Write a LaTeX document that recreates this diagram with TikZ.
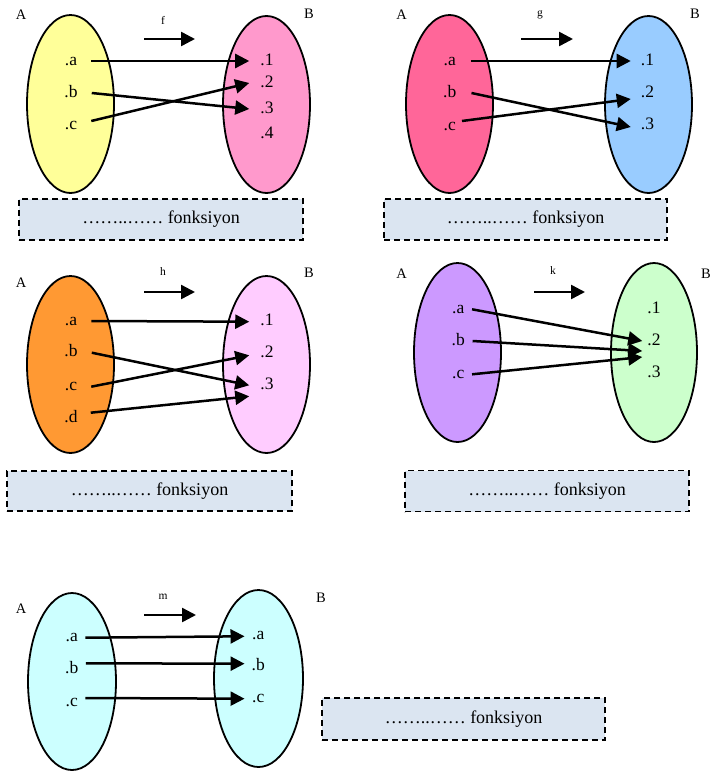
\documentclass[tikz,border=0pt]{standalone}
\usepackage{fontspec}
\setmainfont{Liberation Serif}
\usetikzlibrary{shapes.geometric,arrows.meta}

\definecolor{cYellow}{HTML}{FFFF99}
\definecolor{cPink}{HTML}{FF99CC}
\definecolor{cRose}{HTML}{FF6699}
\definecolor{cBlue}{HTML}{99CCFF}
\definecolor{cOrange}{HTML}{FF9933}
\definecolor{cLilac}{HTML}{FFCCFF}
\definecolor{cPurple}{HTML}{CC99FF}
\definecolor{cGreen}{HTML}{CCFFCC}
\definecolor{cCyan}{HTML}{CCFFFF}
\definecolor{cBox}{HTML}{DBE5F1}

\begin{document}
\begin{tikzpicture}[x=1pt,y=-1pt,
  setshape/.style={ellipse, draw, line width=1.8pt, minimum width=87pt,
    minimum height=177pt, inner sep=0pt},
  elem/.style={anchor=base, inner sep=0pt, text height=8pt, text depth=0pt,
    font=\fontsize{17.5}{17.5}\selectfont},
  setname/.style={inner sep=0pt, font=\fontsize{14.5}{14.5}\selectfont},
  fname/.style={inner sep=0pt, font=\fontsize{11.5}{11.5}\selectfont},
  arr/.style={line width=2.5pt, -{Triangle[length=14pt,width=14pt]}},
  answerbox/.style={draw, dash pattern=on 6pt off 4pt, line width=1.8pt,
    fill=cBox, minimum width=284pt, minimum height=41pt, inner sep=0pt,
    font=\fontsize{18}{18}\selectfont}
]
\clip (0,0) rectangle (712,771);

% ---------- f ----------
\node[setshape, fill=cYellow, minimum height=178pt] (fA) at (70.5,104) {};
\node[setshape, fill=cPink] (fB) at (266.5,104.5) {};
\node[setname] (fAl) at (21,15) {A};
\node[setname] (fBl) at (309,14) {B};
\node[fname] (fl) at (163,20) {f};
\coordinate (fs) at (144,39); \coordinate (fe) at (195,39);
\draw[arr] (fs) -- (fe);
\node[elem] (fa) at (71,65) {.a};
\node[elem] (fb) at (71,97) {.b};
\node[elem] (fc) at (71,129) {.c};
\node[elem] (f1) at (267,65) {.1};
\node[elem] (f2) at (267,87) {.2};
\node[elem] (f3) at (267,113) {.3};
\node[elem] (f4) at (267,138) {.4};
\draw[arr] ([xshift=14pt]fa.east) -- ([xshift=-11pt]f1.west);
\draw[arr] ([xshift=14pt]fb.east) -- ([xshift=-11pt]f3.west);
\draw[arr] ([xshift=14pt,yshift=4pt]fc.east) -- ([xshift=-11pt]f2.west);
\node[answerbox] (fbox) at (161,219.5) {……..…… fonksiyon};

% ---------- g ----------
\node[setshape, fill=cRose, minimum height=178pt] (gA) at (449.5,104) {};
\node[setshape, fill=cBlue] (gB) at (648.5,104.5) {};
\node[setname] (gAl) at (401.5,15) {A};
\node[setname] (gBl) at (695,14) {B};
\node[fname] (gl) at (540,15) {g};
\coordinate (gs) at (521,39); \coordinate (ge) at (573,39);
\draw[arr] (gs) -- (ge);
\node[elem] (ga) at (449.7,65) {.a};
\node[elem] (gb) at (449.7,97) {.b};
\node[elem] (gc) at (449.7,130) {.c};
\node[elem] (g1) at (647.5,65) {.1};
\node[elem] (g2) at (647.5,97) {.2};
\node[elem] (g3) at (647.5,129) {.3};
\draw[arr] ([xshift=15pt]ga.east) -- ([xshift=-10pt]g1.west);
\draw[arr] ([xshift=15pt]gb.east) -- ([xshift=-10pt,yshift=-2pt]g3.west);
\draw[arr] ([xshift=6pt,yshift=5pt]gc.east) -- ([xshift=-10pt,yshift=-6pt]g2.west);
\node[answerbox, minimum width=283pt] (gbox) at (525.5,219.5) {……..…… fonksiyon};

% ---------- h ----------
\node[setshape, fill=cOrange] (hA) at (70.5,364.5) {};
\node[setshape, fill=cLilac] (hB) at (266.5,364.5) {};
\node[setname] (hAl) at (21,283) {A};
\node[setname] (hBl) at (309,273) {B};
\node[fname] (hl) at (163,272) {h};
\coordinate (hs) at (144,292); \coordinate (he) at (195,292);
\draw[arr] (hs) -- (he);
\node[elem] (ha) at (71,325) {.a};
\node[elem] (hb) at (71,356.7) {.b};
\node[elem] (hc) at (71,390.7) {.c};
\node[elem] (hd) at (71,422.7) {.d};
\node[elem] (h1) at (267,325.7) {.1};
\node[elem] (h2) at (267,357.3) {.2};
\node[elem] (h3) at (267,389.3) {.3};
\draw[arr] ([xshift=14pt]ha.east) -- ([xshift=-11pt]h1.west);
\draw[arr] ([xshift=14pt]hb.east) -- ([xshift=-11pt]h3.west);
\draw[arr] ([xshift=14pt]hc.east) -- ([xshift=-11pt,yshift=-2pt]h2.west);
\draw[arr] ([xshift=13pt,yshift=6pt]hd.east) -- ([xshift=-11pt,yshift=-11pt]h3.west);
\node[answerbox, minimum width=285pt, minimum height=40pt] (hbox) at (149.5,491) {……..…… fonksiyon};

% ---------- k ----------
\node[setshape, fill=cPurple, minimum height=179pt] (kA) at (457.5,352.5) {};
\node[setshape, fill=cGreen, minimum width=86pt, minimum height=179pt] (kB) at (654,352.5) {};
\node[setname] (kAl) at (401.5,274) {A};
\node[setname] (kBl) at (706,274) {B};
\node[fname] (kl) at (553,271) {k};
\coordinate (ks) at (534,292); \coordinate (ke) at (585,292);
\draw[arr] (ks) -- (ke);
\node[elem] (ka) at (458.3,313.3) {.a};
\node[elem] (kb) at (458.3,345) {.b};
\node[elem] (kc) at (458.3,378.3) {.c};
\node[elem] (k1) at (654,313.3) {.1};
\node[elem] (k2) at (654,345) {.2};
\node[elem] (k3) at (654,377.3) {.3};
\draw[arr] ([xshift=7.5pt]ka.east) -- ([xshift=-5pt]k2.west);
\draw[arr] ([xshift=7.5pt]kb.east) -- ([xshift=-5pt,yshift=-10pt]k2.west);
\draw[arr] ([xshift=7.5pt]kc.east) -- ([xshift=-5pt,yshift=-16pt]k2.west);
\node[answerbox] (kbox) at (547,491) {……..…… fonksiyon};

% ---------- m ----------
\node[setshape, fill=cCyan, minimum width=88pt] (mA) at (72,681.5) {};
\node[setshape, fill=cCyan, minimum width=89pt] (mB) at (258.5,678.5) {};
\node[setname] (mAl) at (21,609) {A};
\node[setname] (mBl) at (321,598) {B};
\node[fname] (ml) at (163,597) {m};
\coordinate (ms) at (144,615); \coordinate (me) at (196,615);
\draw[arr] (ms) -- (me);
\node[elem] (ma) at (71.7,641.7) {.a};
\node[elem] (mb) at (71.7,673.3) {.b};
\node[elem] (mc) at (71.7,706) {.c};
\node[elem] (mx) at (258.3,639.3) {.a};
\node[elem] (my) at (258.3,670.7) {.b};
\node[elem] (mz) at (258.3,702.7) {.c};
\draw[arr] ([xshift=7.5pt]ma.east) -- ([xshift=-7.5pt,yshift=-1pt]mx.west);
\draw[arr] ([xshift=7.5pt,yshift=6pt]mb.east) -- ([xshift=-7pt,yshift=3pt]my.west);
\draw[arr] ([xshift=7.5pt,yshift=4pt]mc.east) -- ([xshift=-7.5pt]mz.west);
\node[answerbox, minimum width=283pt, minimum height=42pt] (mbox) at (463.5,719) {……..…… fonksiyon};
\end{tikzpicture}
\end{document}
